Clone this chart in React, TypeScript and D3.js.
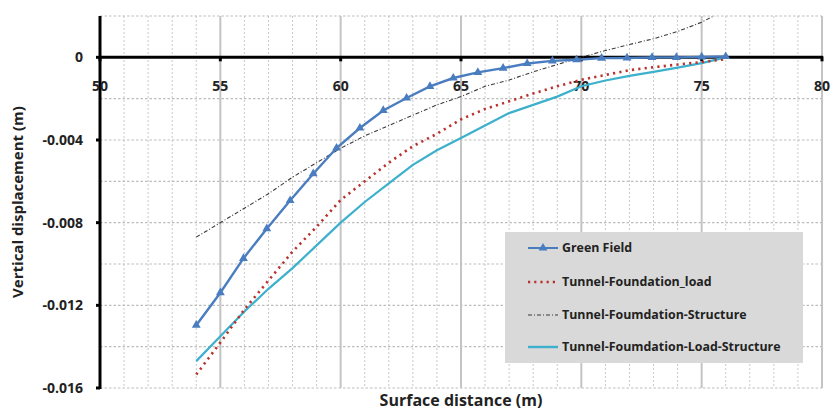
import React from "react";
import * as d3 from "d3";

// ---- Data ----
const gfDistance = [54, 55, 55.96, 56.93, 57.9, 58.86, 59.83, 60.8, 61.77, 62.74, 63.71, 64.68, 65.7, 66.75, 67.75, 68.8, 69.8, 70.84, 71.9, 72.94, 73.95, 75, 76];
const greenField = [-0.01296, -0.01139, -0.00973, -0.00829, -0.00693, -0.00563, -0.00439, -0.00342, -0.00257, -0.00197, -0.00141, -0.001, -0.00073, -0.00052, -0.0003, -0.00017, -0.00012, -0.00004, -0.00003, 0, 0, 0.00002, 0.00004];

const distance = [54, 55, 56, 57, 58, 59, 60, 61, 62, 63, 64, 65, 66, 67, 68, 69, 70, 71, 72, 73, 74, 75, 76];
const foundationLoad = [-0.01535, -0.0138, -0.0122, -0.0108, -0.0094, -0.0082, -0.0069, -0.006, -0.0051, -0.0043, -0.0037, -0.003, -0.0025, -0.00213, -0.00175, -0.0014, -0.00109, -0.00085, -0.00062, -0.00048, -0.00035, -0.00023, -0.00009];
const foundationStructure = [-0.0087, -0.008, -0.0073, -0.0066, -0.0058, -0.0051, -0.0044, -0.0038, -0.0033, -0.0028, -0.0023, -0.0019, -0.0014, -0.0011, -0.0007, -0.00035, 0.0, 0.00033, 0.00062, 0.0009, 0.00125, 0.0017, 0.0023];
const foundationLoadStructure = [-0.0147, -0.0135, -0.0123, -0.0112, -0.0102, -0.0091, -0.008, -0.007, -0.0061, -0.0052, -0.0045, -0.0039, -0.0033, -0.0027, -0.0023, -0.0019, -0.0014, -0.00112, -0.0009, -0.0007, -0.0005, -0.00028, 0];

const xTicks = [50, 55, 60, 65, 70, 75, 80];
const yTicks = [0, -0.004, -0.008, -0.012, -0.016];
const yTickLabels = ["0", "-0.004", "-0.008", "-0.012", "-0.016"];
const legendLabels = ["Green Field", "Tunnel-Foundation_load", "Tunnel-Foumdation-Structure", "Tunnel-Foumdation-Load-Structure"];

const W = 831;
const H = 410;
const FONT = "'Open Sans', 'DejaVu Sans', sans-serif";

export default function App() {
  const x = d3.scaleLinear().domain([50, 80]).range([100, 822]);
  const y = d3.scaleLinear().domain([-0.016, 0.002]).range([388, 16]);

  const minorX = d3.range(50, 81, 1);
  const minorY = d3.range(-0.016, 0.0021, 0.002);

  const line = d3
    .line<[number, number]>()
    .x((d) => x(d[0]))
    .y((d) => y(d[1]));

  const gfPts = gfDistance.map((d, i) => [d, greenField[i]] as [number, number]);
  const loadPts = distance.map((d, i) => [d, foundationLoad[i]] as [number, number]);
  const structPts = distance.map((d, i) => [d, foundationStructure[i]] as [number, number]);
  const lsPts = distance.map((d, i) => [d, foundationLoadStructure[i]] as [number, number]);

  const tri = d3.symbol().type(d3.symbolTriangle).size(34)();

  const blue = "#4a7dc0";
  const red = "#b8322f";
  const cyan = "#3cb0cc";
  const dark = "#3a3a3a";

  const lx0 = 528;
  const lx1 = 558;
  const legendY = [248, 282, 315, 347];

  return (
    <svg
      width={W}
      height={H}
      style={{ position: "absolute", left: 0, top: 0, background: "#fff" }}
      fontFamily={FONT}
    >
      <defs>
        <clipPath id="plot">
          <rect x={100} y={16} width={722} height={372} />
        </clipPath>
      </defs>

      {/* minor grid */}
      {minorX.map((v) =>
        v % 5 === 0 ? null : (
          <line key={"mx" + v} x1={x(v)} x2={x(v)} y1={16} y2={388} stroke="#c9c9c9" strokeWidth={1} strokeDasharray="2 2" />
        )
      )}
      {minorY.map((v, i) => (
        <line key={"my" + i} x1={100} x2={822} y1={y(v)} y2={y(v)} stroke="#bdbdbd" strokeWidth={1.2} strokeDasharray="2.5 2" />
      ))}
      {/* major vertical grid */}
      {xTicks.map((v) =>
        v === 50 ? null : (
          <line key={"Mx" + v} x1={x(v)} x2={x(v)} y1={16} y2={388} stroke="#c4c4c4" strokeWidth={2} />
        )
      )}

      {/* axes */}
      <line x1={100} x2={100} y1={16} y2={389} stroke="#000" strokeWidth={3} />
      <line x1={99} x2={823} y1={y(0)} y2={y(0)} stroke="#000" strokeWidth={3} />
      {xTicks.map((v) => (
        <line key={"xt" + v} x1={x(v)} x2={x(v)} y1={y(0) - 1} y2={y(0) + 4} stroke="#000" strokeWidth={3} />
      ))}
      {yTicks.map((v) => (
        <line key={"yt" + v} x1={96} x2={100} y1={y(v)} y2={y(v)} stroke="#000" strokeWidth={3} />
      ))}

      {/* tick labels */}
      {xTicks.map((v) => (
        <text key={"xl" + v} x={x(v)} y={90.5} textAnchor="middle" fontSize={14} fontWeight={700} fill="#222">
          {v}
        </text>
      ))}
      {yTicks.map((v, i) => (
        <text key={"yl" + v} x={83} y={y(v)} dy="0.35em" textAnchor="end" fontSize={14} fontWeight={700} fill="#222">
          {yTickLabels[i]}
        </text>
      ))}

      {/* series */}
      <g clipPath="url(#plot)">
        <path d={line(structPts) || ""} fill="none" stroke={dark} strokeWidth={1.1} strokeDasharray="4 2 1 2" />
        <path d={line(lsPts) || ""} fill="none" stroke={cyan} strokeWidth={2.2} />
        <path d={line(loadPts) || ""} fill="none" stroke={red} strokeWidth={2.6} strokeDasharray="2.2 4.2" />
        <path d={line(gfPts) || ""} fill="none" stroke={blue} strokeWidth={2.4} />
        {gfPts.map((p, i) => (
          <path key={"m" + i} d={tri || ""} transform={`translate(${x(p[0])},${y(p[1])})`} fill={blue} />
        ))}
      </g>

      {/* legend */}
      <rect x={505} y={232} width={298} height={131} fill="#d9d9d9" />
      <line x1={lx0} x2={lx1} y1={legendY[0]} y2={legendY[0]} stroke={blue} strokeWidth={2} />
      <path d={tri || ""} transform={`translate(${(lx0 + lx1) / 2},${legendY[0]})`} fill={blue} />
      <line x1={lx0} x2={lx1} y1={legendY[1]} y2={legendY[1]} stroke={red} strokeWidth={2.4} strokeDasharray="2.2 4" />
      <line x1={lx0} x2={lx1} y1={legendY[2]} y2={legendY[2]} stroke={dark} strokeWidth={1.1} strokeDasharray="4 2 1 2" />
      <line x1={lx0} x2={lx1} y1={legendY[3]} y2={legendY[3]} stroke={cyan} strokeWidth={2.4} />
      {legendLabels.map((t, i) => (
        <text key={t} x={562} y={legendY[i]} dy="0.35em" fontSize={12.4} fontWeight={700} fill="#222">
          {t}
        </text>
      ))}

      {/* axis titles */}
      <text x={461} y={406} textAnchor="middle" fontSize={16} fontWeight={700} fill="#222">
        Surface distance (m)
      </text>
      <text
        transform="translate(18,202) rotate(-90)"
        textAnchor="middle"
        dy="0.35em"
        fontSize={15}
        fontWeight={700}
        fill="#222"
      >
        Vertical displacement (m)
      </text>
    </svg>
  );
}
